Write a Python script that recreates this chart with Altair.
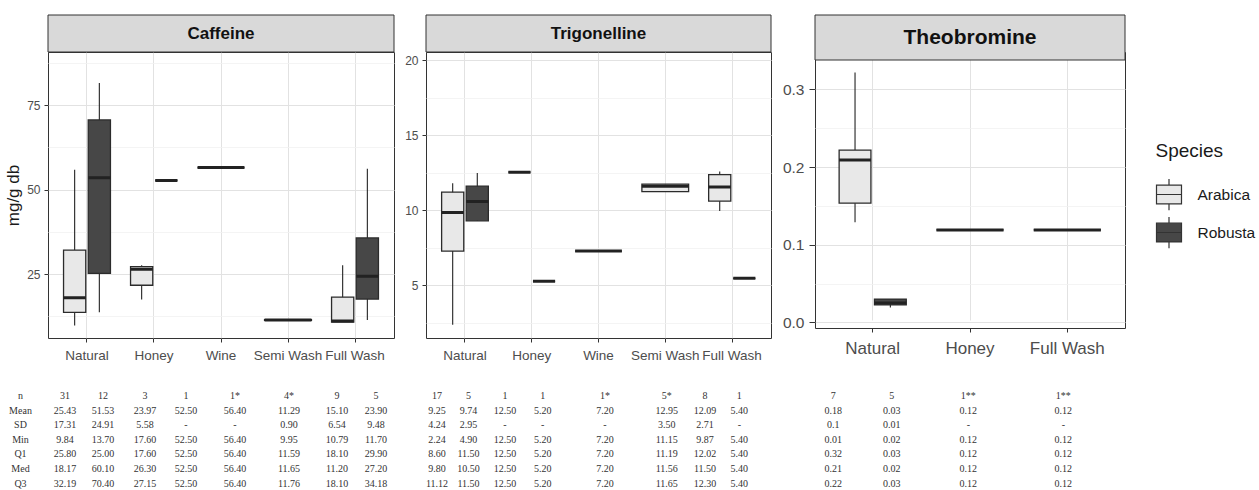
import altair as alt
import pandas as pd

SANS = "Liberation Sans"
SERIF = "Liberation Serif"
SPECIES = ["Arabica", "Robusta"]
SPECIES_FILL = ["#e8e8e8", "#474747"]
GRID = "#e2e2e2"
MINOR_GRID = "#f1f1f1"
ROWS = ["n", "Mean", "SD", "Min", "Q1", "Med", "Q3"]

# ---------------- Caffeine (box statistics) ----------------
caf_cats = ["Natural", "Honey", "Wine", "Semi Wash", "Full Wash"]
caf_process = ["Natural", "Natural", "Honey", "Honey", "Wine", "Semi Wash", "Full Wash", "Full Wash"]
caf_species = ["Arabica", "Robusta", "Arabica", "Robusta", "Arabica", "Arabica", "Arabica", "Robusta"]
caf_min = [9.8, 13.7, 17.5, 52.7, 56.5, 11.3, 10.8, 11.4]
caf_q1 = [13.7, 25.2, 21.7, 52.7, 56.5, 11.3, 10.8, 17.6]
caf_med = [18.0, 53.5, 26.4, 52.7, 56.5, 11.4, 11.1, 24.4]
caf_q3 = [32.1, 70.6, 27.2, 52.7, 56.5, 11.5, 18.2, 35.7]
caf_max = [55.9, 81.5, 27.6, 52.7, 56.5, 11.5, 27.6, 56.2]
caf_ticks = [25, 50, 75]
caf_minor = [12.5, 37.5, 62.5, 87.5]

# ---------------- Trigonelline ----------------
trig_cats = ["Natural", "Honey", "Wine", "Semi Wash", "Full Wash"]
trig_process = ["Natural", "Natural", "Honey", "Honey", "Wine", "Semi Wash", "Full Wash", "Full Wash"]
trig_species = ["Arabica", "Robusta", "Arabica", "Robusta", "Arabica", "Arabica", "Arabica", "Robusta"]
trig_min = [2.35, 9.29, 12.53, 5.25, 7.27, 11.24, 9.95, 5.45]
trig_q1 = [7.27, 9.29, 12.53, 5.25, 7.27, 11.24, 10.6, 5.45]
trig_med = [9.85, 10.57, 12.53, 5.25, 7.27, 11.6, 11.55, 5.45]
trig_q3 = [11.2, 11.6, 12.53, 5.25, 7.27, 11.73, 12.37, 5.45]
trig_max = [11.8, 12.47, 12.53, 5.25, 7.27, 11.73, 12.57, 5.45]
trig_ticks = [5, 10, 15, 20]
trig_minor = [2.5, 7.5, 12.5, 17.5]

# ---------------- Theobromine ----------------
theo_cats = ["Natural", "Honey", "Full Wash"]
theo_process = ["Natural", "Natural", "Honey", "Full Wash"]
theo_species = ["Arabica", "Robusta", "Arabica", "Arabica"]
theo_min = [0.129, 0.019, 0.119, 0.119]
theo_q1 = [0.1535, 0.0225, 0.119, 0.119]
theo_med = [0.209, 0.025, 0.119, 0.119]
theo_q3 = [0.222, 0.030, 0.119, 0.119]
theo_max = [0.322, 0.030, 0.119, 0.119]
theo_ticks = [0, 0.1, 0.2, 0.3]
theo_minor = [0.05, 0.15, 0.25]

# ---------------- summary table under the panels ----------------
caf_tbl = [
    ["31", "12", "3", "1", "1*", "4*", "9", "5"],
    ["25.43", "51.53", "23.97", "52.50", "56.40", "11.29", "15.10", "23.90"],
    ["17.31", "24.91", "5.58", "-", "-", "0.90", "6.54", "9.48"],
    ["9.84", "13.70", "17.60", "52.50", "56.40", "9.95", "10.79", "11.70"],
    ["25.80", "25.00", "17.60", "52.50", "56.40", "11.59", "18.10", "29.90"],
    ["18.17", "60.10", "26.30", "52.50", "56.40", "11.65", "11.20", "27.20"],
    ["32.19", "70.40", "27.15", "52.50", "56.40", "11.76", "18.10", "34.18"],
]
trig_tbl = [
    ["17", "5", "1", "1", "1*", "5*", "8", "1"],
    ["9.25", "9.74", "12.50", "5.20", "7.20", "12.95", "12.09", "5.40"],
    ["4.24", "2.95", "-", "-", "-", "3.50", "2.71", "-"],
    ["2.24", "4.90", "12.50", "5.20", "7.20", "11.15", "9.87", "5.40"],
    ["8.60", "11.50", "12.50", "5.20", "7.20", "11.19", "12.02", "5.40"],
    ["9.80", "10.50", "12.50", "5.20", "7.20", "11.56", "11.50", "5.40"],
    ["11.12", "11.50", "12.50", "5.20", "7.20", "11.65", "12.30", "5.40"],
]
theo_tbl = [
    ["7", "5", "1**", "1**"],
    ["0.18", "0.03", "0.12", "0.12"],
    ["0.1", "0.01", "-", "-"],
    ["0.01", "0.02", "0.12", "0.12"],
    ["0.32", "0.03", "0.12", "0.12"],
    ["0.21", "0.02", "0.12", "0.12"],
    ["0.22", "0.03", "0.12", "0.12"],
]

# layout of the table columns (pixels from each panel's left edge)
caf_tbl_x = [17, 55, 97, 138, 187, 241, 289, 328]
trig_tbl_x = [11, 42.5, 79, 116.7, 179, 240.8, 279, 313.3]
theo_tbl_x = [18.3, 76.7, 153.3, 248.3]
ROW_LABEL_X = -27.5
TABLE_ROWS_Y = [344, 431.7]

LEGEND_PATH = "M-1,-0.75H1V0.75H-1Z M-1,0H1 M0,-0.75V-1.25 M0,0.75V1.25"

fill_enc = alt.Fill(
    "species:N",
    title="Species",
    scale=alt.Scale(domain=SPECIES, range=SPECIES_FILL),
    legend=alt.Legend(
        orient="none", legendX=1107.5, legendY=90,
        titleFont=SANS, titleFontSize=19, titleFontWeight="normal", titleColor="#1a1a1a",
        titlePadding=20, labelFont=SANS, labelFontSize=15.5, labelColor="#1a1a1a",
        symbolType=LEGEND_PATH, symbolSize=625, symbolStrokeColor="#333333",
        symbolStrokeWidth=1.2, labelOffset=15, rowPadding=1,
    ),
)


def box_frame(process, species, mn, q1, md, q3, mx):
    df = pd.DataFrame(dict(process=process, species=species, lo=mn, q1=q1, med=md, q3=q3, hi=mx))
    df["pair"] = df.groupby("process")["species"].transform("count") > 1
    return df


def table_frame(tbl, xs, with_labels):
    recs = []
    for r, row in enumerate(tbl):
        for c, txt in enumerate(row):
            recs.append(dict(row=ROWS[r], cx=xs[c], txt=txt))
        if with_labels:
            recs.append(dict(row=ROWS[r], cx=ROW_LABEL_X, txt=ROWS[r]))
    return pd.DataFrame(recs)


def panel(name, cats, df, tbl_df, w, h, strip_top, plot_top, ydom, yticks, yminor, yfmt, po, pi,
          xfs, yfs, sfs, ytitle, ytick, ypad, xpad):
    xscale = alt.Scale(domain=cats, paddingInner=pi, paddingOuter=po)
    xaxis = alt.Axis(title=None, labelAngle=0, labelFont=SANS, labelFontSize=xfs,
                     labelColor="#4d4d4d", tickColor="#333333", tickSize=4, labelPadding=xpad,
                     domain=False, grid=True, gridColor=GRID, labelOverlap=False)
    yscale = alt.Scale(domain=ydom, range=[h, plot_top], nice=False, zero=False)
    yaxis = alt.Axis(values=yticks, format=yfmt, labelFont=SANS, labelFontSize=yfs,
                     labelColor="#4d4d4d", tickColor="#333333", tickSize=ytick,
                     labelPadding=ypad, domain=False, grid=True, gridColor=GRID,
                     title=ytitle, titleFont=SANS, titleFontSize=17, titleFontWeight="normal",
                     titleColor="#1a1a1a", titlePadding=4, orient="left")
    minor_axis = alt.Axis(values=yminor, labels=False, ticks=False, domain=False, grid=True,
                          gridColor=MINOR_GRID, gridWidth=0.8, title=None, orient="right")
    x_enc = alt.X("process:N", scale=xscale, axis=xaxis)
    off_enc = alt.XOffset("species:N", scale=alt.Scale(domain=SPECIES, paddingInner=0.1))

    pair = alt.Chart(df).transform_filter("datum.pair")
    single = alt.Chart(df).transform_filter("!datum.pair")

    layers = [
        alt.Chart(df).mark_rule(opacity=0).encode(
            y=alt.Y("lo:Q", scale=yscale, axis=minor_axis)),
    ]
    first = True
    for base, extra in ((pair, dict(xOffset=off_enc)), (single, {})):
        ax = yaxis if first else None
        first = False
        layers.append(base.mark_rule(color="#222222", strokeWidth=1.1).encode(
            x=x_enc, y=alt.Y("lo:Q", scale=yscale, axis=ax), y2="hi:Q", **extra))
        layers.append(base.mark_bar(stroke="#2b2b2b", strokeWidth=1.3).encode(
            x=x_enc, y=alt.Y("q1:Q", scale=yscale, axis=None), y2="q3:Q", fill=fill_enc, **extra))
        layers.append(base.mark_bar(fill="transparent", stroke="#222222", strokeWidth=3).encode(
            x=x_enc, y=alt.Y("med:Q", scale=yscale, axis=None), y2="med:Q", **extra))
    boxes = alt.layer(*layers).resolve_axis(y="independent")

    strip_df = pd.DataFrame({"panel": [name]})
    strip_rect = alt.Chart(strip_df).mark_rect(fill="#d9d9d9", stroke="#333333", strokeWidth=1).encode(
        x=alt.value(0), x2=alt.value(w), y=alt.value(strip_top), y2=alt.value(plot_top))
    strip_txt = alt.Chart(strip_df).mark_text(font=SANS, fontSize=sfs, fontWeight="bold",
                                              color="#111111", baseline="middle").encode(
        x=alt.value(w / 2), y=alt.value((strip_top + plot_top) / 2), text="panel:N")

    table = alt.Chart(tbl_df).mark_text(font=SERIF, fontSize=10, color="#333333",
                                        baseline="middle", align="center").encode(
        x=alt.X("cx:Q", scale=alt.Scale(domain=[0, w], range=[0, w], nice=False, zero=False), axis=None),
        y=alt.Y("row:N", scale=alt.Scale(domain=ROWS, range=TABLE_ROWS_Y, padding=0), axis=None),
        text="txt:N")

    return alt.layer(boxes, strip_rect, strip_txt, table).resolve_scale(
        x="independent", y="independent").properties(width=w, height=h)


p1 = panel("Caffeine", caf_cats,
           box_frame(caf_process, caf_species, caf_min, caf_q1, caf_med, caf_q3, caf_max),
           table_frame(caf_tbl, caf_tbl_x, True),
           346, 286, -37, 0, [6.1, 90.7], caf_ticks, caf_minor, "d", 0.232, 0.3,
           13.5, 12, 17, "mg/g db", 4, 4, 6)
p2 = panel("Trigonelline", trig_cats,
           box_frame(trig_process, trig_species, trig_min, trig_q1, trig_med, trig_q3, trig_max),
           table_frame(trig_tbl, trig_tbl_x, False),
           345, 286, -37, 0, [1.47, 20.55], trig_ticks, trig_minor, "d", 0.234, 0.3,
           13.5, 12, 17, None, 4, 4, 6)
p3 = panel("Theobromine", theo_cats,
           box_frame(theo_process, theo_species, theo_min, theo_q1, theo_med, theo_q3, theo_max),
           table_frame(theo_tbl, theo_tbl_x, False),
           310, 276, -37, 8, [-0.0073, 0.338], theo_ticks, theo_minor, ".1f", 0.248, 0.31,
           17, 15.5, 21, None, 6, 5, 8)

chart = alt.concat(p1, p2, p3, columns=3, spacing=9, align="none", bounds="full").resolve_scale(
    xOffset="independent"
).properties(
    padding={"left": 4, "top": 14, "right": 0, "bottom": 0}
).configure(background="white").configure_view(stroke="#333333", strokeWidth=1)

chart.save("out.html", embed_options={"renderer": "svg", "actions": False})
